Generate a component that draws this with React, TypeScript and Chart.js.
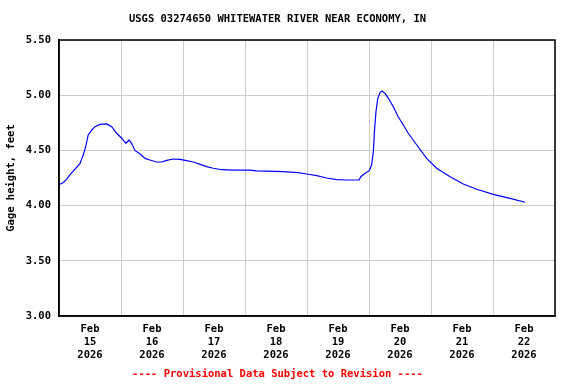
import React, { useEffect, useRef } from "react";
import { Chart, registerables } from "chart.js";

Chart.register(...registerables);

// Data: hours since Feb 15 2026 00:00, gage height (feet)
const hours: number[] = [
  0, 1.7, 3.0, 4.3, 6.2, 8.1, 9.4, 10.5, 11.3, 12.7, 13.9, 15.9, 18.5, 20.4, 22.3,
  24.3, 25.2, 25.9, 27.1, 28.1, 29.4, 31.4, 33.3, 35.2, 37.8, 39.8, 41.7, 44.2, 46.8,
  49.4, 52.0, 54.6, 57.2, 59.7, 63.0, 67.5, 73.9, 76.5, 86.8, 92.6, 95.9, 99.8, 103.6,
  107.5, 111.4, 116.2, 116.8, 118.5, 120.1, 121.0, 121.7, 122.1, 122.7, 123.4, 124.3,
  125.1, 126.2, 127.5, 129.4, 131.3, 133.3, 135.2, 138.5, 142.3, 146.2, 151.4, 156.5,
  161.7, 168.1, 174.6, 180.4,
];
const gageHeight: number[] = [
  4.19, 4.21, 4.24, 4.28, 4.33, 4.38, 4.46, 4.55, 4.64, 4.685, 4.715, 4.735, 4.74, 4.715, 4.655,
  4.61, 4.585, 4.565, 4.594, 4.564, 4.5, 4.467, 4.428, 4.413, 4.395, 4.395, 4.41, 4.422, 4.419,
  4.407, 4.395, 4.374, 4.353, 4.338, 4.325, 4.322, 4.322, 4.315, 4.307, 4.298, 4.286, 4.271, 4.25,
  4.235, 4.232, 4.232, 4.262, 4.293, 4.316, 4.368, 4.49, 4.67, 4.85, 4.97, 5.026,
  5.038, 5.017, 4.972, 4.896, 4.805, 4.73, 4.655, 4.549, 4.428, 4.338, 4.262, 4.196,
  4.148, 4.102, 4.066, 4.03,
];

const tickMonth = "Feb";
const tickDays: string[] = ["15", "16", "17", "18", "19", "20", "21", "22"];
const tickYear = "2026";
const yTicks: number[] = [3.0, 3.5, 4.0, 4.5, 5.0, 5.5];

const titleText = "USGS 03274650 WHITEWATER RIVER NEAR ECONOMY, IN";
const yAxisTitle = "Gage height, feet";
const footerText = "---- Provisional Data Subject to Revision ----";

const FONT = "'DejaVu Sans Mono', 'Liberation Mono', monospace";

export default function App() {
  const ref = useRef<HTMLCanvasElement | null>(null);

  useEffect(() => {
    if (!ref.current) return;
    const frame = {
      id: "frame",
      afterDraw(chart: any) {
        const { ctx, chartArea } = chart;
        ctx.save();
        ctx.strokeStyle = "#000000";
        ctx.lineWidth = 1.5;
        ctx.strokeRect(chartArea.left, chartArea.top, chartArea.right - chartArea.left, chartArea.bottom - chartArea.top);
        ctx.restore();
      },
    };
    const chart = new Chart(ref.current, {
      type: "line",
      data: {
        datasets: [
          {
            data: hours.map((h, i) => ({ x: h, y: gageHeight[i] })),
            borderColor: "#0000ff",
            borderWidth: 1.2,
            pointRadius: 0,
            tension: 0,
            fill: false,
          },
        ],
      },
      options: {
        animation: false,
        responsive: false,
        devicePixelRatio: 1,
        layout: { padding: { left: 0, right: 21, top: 0, bottom: 0 } },
        plugins: {
          legend: { display: false },
          tooltip: { enabled: false },
          title: {
            display: true,
            text: titleText,
            color: "#000000",
            font: { family: FONT, size: 10.5, weight: "bold", lineHeight: 1.2 },
            padding: { top: 13, bottom: 14.4 },
          },
          subtitle: {
            display: true,
            position: "bottom",
            text: footerText,
            color: "#ff0000",
            font: { family: FONT, size: 10.5, weight: "bold", lineHeight: 1.2 },
            padding: { top: 2.4, bottom: 3 },
          },
        },
        scales: {
          x: {
            type: "linear",
            min: 0,
            max: 192,
            afterFit: (scale: any) => {
              scale.height = 50;
            },
            afterBuildTicks: (scale: any) => {
              const t: any[] = [];
              for (let v = 0; v <= 192; v += 12) t.push({ value: v });
              scale.ticks = t;
            },
            ticks: {
              autoSkip: false,
              maxRotation: 0,
              minRotation: 0,
              padding: 7,
              color: "#000000",
              font: { family: FONT, size: 10.5, weight: "bold", lineHeight: "13px" },
              callback: (v: any) => {
                const n = Number(v);
                if (n % 24 === 12) {
                  const d = tickDays[Math.floor(n / 24)];
                  return d ? [tickMonth, d, tickYear] : "";
                }
                return "";
              },
            },
            grid: {
              drawTicks: false,
              color: (c: any) => (c.tick && c.tick.value % 24 === 0 ? "#cccccc" : "rgba(0,0,0,0)"),
              lineWidth: 1,
            },
            border: { display: true, color: "#000000", width: 1.5 },
          },
          y: {
            type: "linear",
            min: 3,
            max: 5.5,
            afterFit: (scale: any) => {
              scale.width = 59;
            },
            afterBuildTicks: (scale: any) => {
              scale.ticks = yTicks.map((v) => ({ value: v }));
            },
            ticks: {
              padding: 8,
              color: "#000000",
              font: { family: FONT, size: 10.5, weight: "bold" },
              callback: (v: any) => Number(v).toFixed(2),
            },
            grid: { drawTicks: false, color: "#cccccc", lineWidth: 1 },
            border: { display: true, color: "#000000", width: 1.5 },
            title: {
              display: true,
              text: yAxisTitle,
              color: "#000000",
              font: { family: FONT, size: 10.5, weight: "bold", lineHeight: 1.2 },
              padding: { top: 4.7, bottom: 0 },
            },
          },
        },
      },
      plugins: [frame],
    } as any);
    return () => chart.destroy();
  }, []);

  return (
    <div style={{ position: "fixed", left: 0, top: 0, width: 576, height: 384, background: "#ffffff" }}>
      <canvas ref={ref} width={576} height={384} style={{ width: 576, height: 384, display: "block" }} />
    </div>
  );
}
